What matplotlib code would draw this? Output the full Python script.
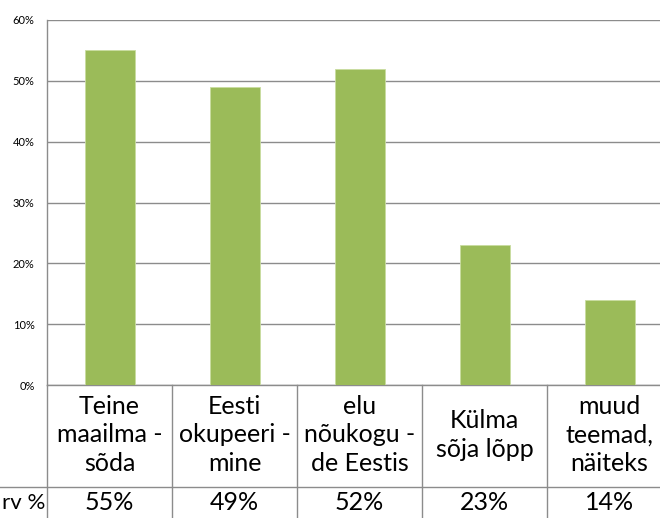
import numpy as np
import matplotlib.pyplot as plt
from matplotlib.transforms import blended_transform_factory

# ================== andmed ==================
categories = ['Teine\nmaailma -\nsõda', 'Eesti\nokupeeri -\nmine', 'elu\nnõukogu -\nde Eestis',
              'Külma\nsõja lõpp', 'muud\nteemad,\nnäiteks']
values = [55, 49, 52, 23, 14]
value_labels = ['55%', '49%', '52%', '23%', '14%']
row_label = 'rv %'
y_ticks = [0, 10, 20, 30, 40, 50, 60]

plt.rcParams['font.family'] = ['Lato', 'DejaVu Sans']

W, H = 660, 518
fig = plt.figure(figsize=(W / 100, H / 100), dpi=100)

# plot area in pixels
left, right, top, bottom = 47, 672, 20, 385
ax = fig.add_axes([left / W, 1 - bottom / H, (right - left) / W, (bottom - top) / H])

x = np.arange(len(categories))
ax.bar(x, values, width=0.4, color='#9BBB59', edgecolor='#C9DDA0', linewidth=0.6, zorder=3)

ax.set_xlim(-0.5, len(categories) - 0.5)
ax.set_ylim(0, 60)
ax.set_yticks(y_ticks)
ax.set_yticklabels([f'{t}%' for t in y_ticks], fontsize=8)
ax.tick_params(axis='y', length=0, pad=9)
ax.set_xticks([])
ax.grid(axis='y', color='#8C8C8C', linewidth=1.0, zorder=0)

for s in ['top', 'right', 'bottom']:
    ax.spines[s].set_visible(False)
ax.spines['left'].set_color('#8C8C8C')
ax.spines['left'].set_linewidth(1.0)

# ================== andmetabel ==================
ah = bottom - top
def ay(py):
    # piksli y -> telje murdosa
    return (bottom - py) / ah

trans = blended_transform_factory(ax.transData, ax.transAxes)
line_kw = dict(color='#8C8C8C', linewidth=1.0, clip_on=False)

row_sep = 487
y_end = ay(H + 5)
fs = 18

ax.plot([-0.5, len(categories) - 0.5], [0, 0], transform=trans, **line_kw)
for b in np.arange(-0.5, len(categories), 1.0):
    ax.plot([b, b], [0, y_end], transform=trans, **line_kw)
fig.add_artist(plt.Line2D([0, 1], [1 - row_sep / H] * 2, transform=fig.transFigure,
                          color='#8C8C8C', linewidth=1.0))

for i, (cat, val) in enumerate(zip(categories, value_labels)):
    ax.text(i, ay(435), cat, transform=trans, ha='center', va='center',
            fontsize=fs, linespacing=1.3, clip_on=False)
    ax.text(i, ay(503), val, transform=trans, ha='center', va='center',
            fontsize=fs, clip_on=False)

fig.text(2 / W, 1 - 503 / H, row_label, ha='left', va='center', fontsize=16)

fig.savefig('out.png', dpi=100)
